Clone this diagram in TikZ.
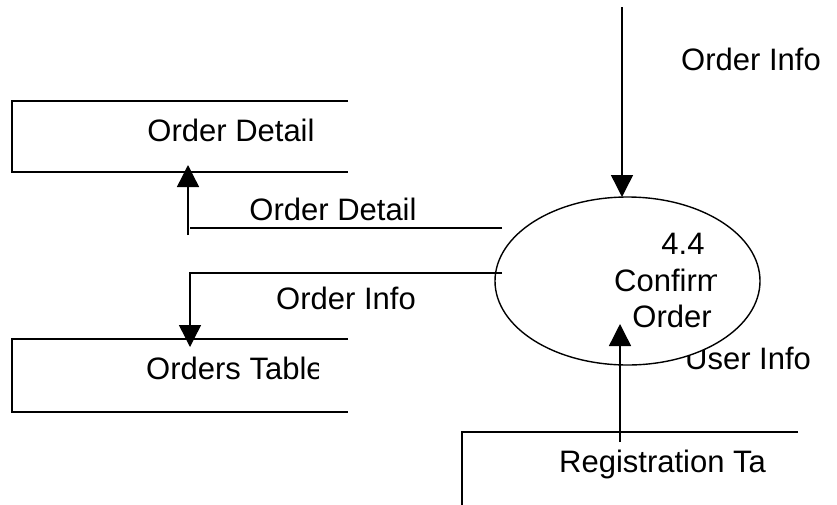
\documentclass[tikz,border=0pt]{standalone}
\usepackage{fontspec}
\setmainfont{Liberation Sans}
\usetikzlibrary{arrows.meta,shapes.geometric}
\tikzset{
  flow/.style={line width=1.4pt},
  flowarrow/.style={line width=1.4pt,-{Triangle[length=22pt,width=22pt]}},
  storeline/.style={line width=1.4pt},
  lbl/.style={inner sep=0pt,font=\fontsize{31}{37}\selectfont},
  proc/.style={ellipse,draw,line width=1.4pt,fill=white,minimum width=265pt,minimum height=168pt,inner sep=0pt}
}
\begin{document}
\begin{tikzpicture}[x=1pt,y=-1pt]
\useasboundingbox (0,0) rectangle (837,504);
% data stores (open-ended boxes)
\draw[storeline] (348,101) -- (12,101) -- (12,172) -- (348,172);
\draw[storeline] (348,339) -- (12,339) -- (12,412) -- (348,412);
\draw[storeline] (798,432) -- (462,432) -- (462,506);
\node[lbl,anchor=base] (sdetail) at (231,141) {Order Detail};
\begin{scope}
\clip (100,330) rectangle (318,400);
\node[lbl,anchor=base west] (sorders) at (146,379) {Orders Table};
\end{scope}
\node[lbl,anchor=base west] (sreg) at (559,472) {Registration Ta};
% user info label (partly covered by process)
\node[lbl,anchor=base west] (luser) at (685,369) {User Info};
% process
\node[proc] (p44) at (627.5,281) {};
\node[lbl,anchor=base] (t44) at (683,254) {4.4};
\begin{scope}
\clip (600,260) rectangle (716,300);
\node[lbl,anchor=base west] (tconf) at (614,291) {Confirm};
\end{scope}
\node[lbl,anchor=base] (tord) at (672,327) {Order};
% connectors
\coordinate (topin) at (622,7);
\coordinate (ptop) at (622,197);
\draw[flowarrow] (topin) -- (ptop);
\node[lbl,anchor=base] (linfo1) at (751,70) {Order Info};

\coordinate (d1) at (502,228);
\coordinate (d2) at (190,228);
\coordinate (d3) at (188,235);
\coordinate (d4) at (188,165);
\draw[flow] (d1) -- (d2);
\draw[flowarrow] (d3) -- (d4);
\node[lbl,anchor=base] (ldetail) at (333,220) {Order Detail};

\coordinate (o1) at (502,273);
\coordinate (o2) at (190,347);
\draw[flowarrow] (o1) -| (o2);
\node[lbl,anchor=base] (linfo2) at (346,309) {Order Info};

\coordinate (u1) at (620,442);
\coordinate (u2) at (620,324);
\draw[flowarrow] (u1) -- (u2);
\end{tikzpicture}
\end{document}
